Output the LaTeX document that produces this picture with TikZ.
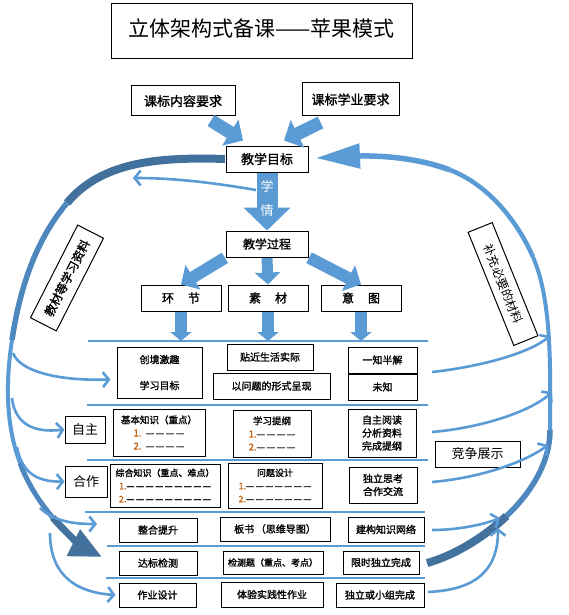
\documentclass[tikz,border=0pt]{standalone}
\usepackage{fontspec}
\setmainfont{Noto Sans CJK SC}
\newfontfamily\cjkb[FakeBold=1.5]{Noto Sans CJK SC}
\usetikzlibrary{arrows.meta}
\definecolor{lblue}{RGB}{91,155,213}
\definecolor{mblue}{RGB}{78,134,190}
\definecolor{dblue}{RGB}{65,113,156}
\definecolor{numc}{RGB}{196,98,16}
\newcommand{\nm}[1]{\textcolor{numc}{#1}}
\tikzset{
  box/.style={draw, line width=1pt, inner sep=0pt, align=center, font={\cjkb\fontsize{10}{13}\selectfont}},
  topbox/.style={box, font={\cjkb\fontsize{13}{15}\selectfont}},
  sidebox/.style={box, font={\fontsize{13}{15}\selectfont}},
  listbox/.style={box, font={\cjkb\fontsize{9.5}{13}\selectfont}},
  sepline/.style={lblue, line width=2pt},
  thinarr/.style={lblue, line width=2.6pt, -{Straight Barb[length=6pt,width=15pt]}},
}
\begin{document}
\begin{tikzpicture}[x=1pt,y=-1pt]
  \fill[white] (0,0) rectangle (568,615);
  \useasboundingbox (0,0) rectangle (568,615);

  % top part
  \node[draw, line width=1pt, minimum width=301pt, minimum height=55pt, font={\fontsize{21}{24}\selectfont}] (title) at (261.5,31.5) {\raisebox{8pt}{立体架构式备课——苹果模式}};
  \node[topbox, minimum width=104pt, minimum height=30pt] (kbnr) at (183,101) {课标内容要求};
  \node[topbox, minimum width=97pt, minimum height=33pt] (kbxy) at (350.5,99.5) {课标学业要求};
  \node[topbox, minimum width=82pt, minimum height=26pt] (mubiao) at (267,159) {教学目标};
  \node[topbox, minimum width=82pt, minimum height=26pt, font={\cjkb\fontsize{12}{14}\selectfont}] (guocheng) at (267,244) {教学过程};
  \node[topbox, minimum width=80pt, minimum height=26pt, font={\cjkb\fontsize{12}{14}\selectfont}] (huanjie) at (181,298) {环\hspace{14pt}节};
  \node[topbox, minimum width=80pt, minimum height=26pt, font={\cjkb\fontsize{12}{14}\selectfont}] (sucai) at (268,298) {素\hspace{14pt}材};
  \node[topbox, minimum width=80pt, minimum height=26pt, font={\cjkb\fontsize{12}{14}\selectfont}] (yitu) at (361,298) {意\hspace{14pt}图};

  % side labels
  \node[box, minimum width=104pt, minimum height=29pt, rotate=63, font={\cjkb\fontsize{12}{14}\selectfont}] (jiaocai) at (67,278) {教材等学习资料};
  \node[box, minimum width=122pt, minimum height=26pt, rotate=-68, font={\fontsize{12}{14}\selectfont}] (buchong) at (503,284) {补充必要的材料};

  % rows
  \foreach \y/\xa/\xb in {341/88/428, 405/87/428, 460/87/428, 512/85/425, 546/107/425, 578/106/425}
    \draw[sepline] (\xa,\y) -- (\xb,\y);
  \coordinate (h1) at (88,341);

  \node[box, minimum width=85pt, minimum height=51pt] (chuangjing) at (159.5,372.5) {创境激趣\\[13pt]学习目标};
  \node[box, minimum width=86pt, minimum height=26pt] (tiejin) at (270,357) {贴近生活实际};
  \node[box, minimum width=117pt, minimum height=26pt] (wenti) at (271.5,386) {以问题的形式呈现};
  \node[box, minimum width=69pt, minimum height=26pt] (yizhi) at (382.5,360) {一知半解};
  \node[box, minimum width=69pt, minimum height=26pt] (weizhi) at (382.5,387) {未知};

  \node[sidebox, minimum width=40pt, minimum height=27pt] (zizhu) at (85,429.5) {自主};
  \node[listbox, minimum width=92pt, minimum height=47pt] (jiben) at (159,432.5) {基本知识（重点）\\\nm{1.}\ \ —\,—\,—\,—\\\nm{2.}\ \ —\,—\,—\,—};
  \node[listbox, minimum width=78pt, minimum height=47pt] (tigang) at (272,433.5) {学习提纲\\\nm{1.}—\,—\,—\,—\\\nm{2.}—\,—\,—\,—};
  \node[box, minimum width=68pt, minimum height=48pt] (yuedu) at (382,433) {自主阅读\\分析资料\\完成提纲};
  \node[sidebox, minimum width=85pt, minimum height=26pt] (jingzheng) at (477.5,454) {竞争展示};

  \node[sidebox, minimum width=42pt, minimum height=31pt] (hezuo) at (86,481.5) {合作};
  \node[listbox, minimum width=110pt, minimum height=43pt, font={\cjkb\fontsize{9}{13}\selectfont}] (zonghe) at (165,485.5) {综合知识（重点、难点）\\\nm{1.}—\,—\,—\,—\,—\,—\,—\,—\,—\\\nm{2.}—\,—\,—\,—\,—\,—\,—\,—\,—};
  \node[listbox, minimum width=94pt, minimum height=45pt, font={\cjkb\fontsize{9}{13}\selectfont}] (sheji) at (275,485.5) {问题设计\\\nm{1.}—\,—\,—\,—\,—\,—\,—\\\nm{2.}—\,—\,—\,—\,—\,—\,—};
  \node[box, minimum width=68pt, minimum height=36pt] (duli) at (383,485) {独立思考\\合作交流};

  \node[box, minimum width=78pt, minimum height=24pt] (zhenghe) at (158,530) {整合提升};
  \node[box, minimum width=110pt, minimum height=24pt] (banshu) at (275,529) {板书\,（思维导图）};
  \node[box, minimum width=76pt, minimum height=25pt] (jiangou) at (386,529.5) {建构知识网络};
  \node[box, minimum width=78pt, minimum height=24pt] (dabiao) at (158,563) {达标检测};
  \node[box, minimum width=100pt, minimum height=23pt, font={\cjkb\fontsize{9}{12}\selectfont}] (jianceti) at (273,562.5) {检测题（重点、考点）};
  \node[box, minimum width=76pt, minimum height=23pt] (xianshi) at (381,562.5) {限时独立完成};
  \node[box, minimum width=77pt, minimum height=24pt] (zuoye) at (157.5,595) {作业设计};
  \node[box, minimum width=102pt, minimum height=25pt] (tiyan) at (272,594.5) {体验实践性作业};
  \node[box, minimum width=88pt, minimum height=24pt] (xiaozu) at (380,595) {独立或小组完成};

  % block arrows
  \draw[lblue, line width=13pt, -{Triangle[length=15pt,width=30pt]}] ([xshift=28pt,yshift=-4pt]kbnr.south) -- ([xshift=-24pt,yshift=5pt]mubiao.north);
  \draw[lblue, line width=13pt, -{Triangle[length=15pt,width=30pt]}] ([xshift=-30pt,yshift=-6pt]kbxy.south) -- ([xshift=17pt,yshift=5pt]mubiao.north);
  \draw[lblue, line width=21pt, shorten <=0.6pt, -{Triangle[length=23pt,width=46pt]}] (mubiao.south) -- (guocheng.north);
  \node[white, font={\fontsize{13}{15}\selectfont}] (xue) at (267,186) {学};
  \node[white, font={\fontsize{13}{15}\selectfont}] (qing) at (267,211) {情};
  \draw[lblue, line width=12pt, shorten <=0.6pt, -{Triangle[length=14pt,width=28pt]}] (guocheng.south west) -- (huanjie.north);
  \draw[lblue, line width=11pt, shorten <=0.6pt, -{Triangle[length=12pt,width=25pt]}] (guocheng.south) -- (sucai.north);
  \draw[lblue, line width=12pt, shorten <=0.6pt, -{Triangle[length=14pt,width=28pt]}] (guocheng.south east) -- (yitu.north);
  \draw[lblue, line width=12pt, shorten <=0.6pt, -{Triangle[length=9pt,width=21pt]}] (huanjie.south) -- (huanjie.south |- h1);
  \draw[lblue, line width=12pt, shorten <=0.6pt, -{Triangle[length=9pt,width=21pt]}] (sucai.south) -- (sucai.south |- h1);
  \draw[lblue, line width=12pt, shorten <=0.6pt, -{Triangle[length=9pt,width=21pt]}] (yitu.south) -- (yitu.south |- h1);

  % left arc
  \coordinate (la1) at (67,203);
  \coordinate (la2) at (12,340);
  \coordinate (la3) at (20,463);
  \coordinate (la4) at (52.75,517.5);
  \coordinate (la5) at (102,557);
  \draw[dblue, line width=8pt, shorten <=0.6pt] (mubiao.west) .. controls (160,157) and (102,161) .. (la1);
  \draw[mblue, line width=5.5pt] (la1) .. controls (35,241) and (19.5,290) .. (la2);
  \draw[lblue, line width=4pt] (la2) .. controls (6,380) and (5,423) .. (la3);
  \draw[mblue, line width=5pt] (la3) .. controls (27,482) and (38.5,501) .. (la4);
  \draw[dblue, line width=7pt, -{Triangle[length=32pt,width=28pt]}] (la4) .. controls (67,534) and (84,548) .. (la5);

  % right arc
  \coordinate (rb0) at (427,563);
  \coordinate (rb1) at (506.5,516);
  \coordinate (rb2) at (550,430);
  \coordinate (rb3) at (533,257);
  \coordinate (rb4) at (450,170);
  \coordinate (rtip) at (316,158);
  \draw[dblue, line width=8pt] (rb0) .. controls (451,556.5) and (481.75,539.5) .. (rb1);
  \draw[mblue, line width=5.5pt] (rb1) .. controls (531.25,492.5) and (550,462.5) .. (rb2);
  \draw[lblue, line width=4pt] (rb2) .. controls (550,375) and (553,303) .. (rb3);
  \draw[lblue, line width=4.5pt] (rb3) .. controls (517,220) and (487,184) .. (rb4);
  \draw[lblue, line width=5.5pt, -{Triangle[length=44pt,width=24pt]}] (rb4) .. controls (408,154) and (360,156) .. (rtip);

  % thin arrows, left
  \coordinate (xqs) at (256,190);
  \coordinate (xqe) at (133,178);
  \draw[thinarr] (xqs) .. controls (215,183) and (175,178) .. (xqe);
  \coordinate (a1s) at (13,353);
  \coordinate (a2s) at (12,398);
  \coordinate (a3s) at (17,447);
  \coordinate (a4s) at (40,508);
  \coordinate (a4e) at (97,524);
  \coordinate (a5s) at (50,533);
  \draw[thinarr] (a1s) .. controls (20,372) and (60,381) .. ([xshift=-6pt,yshift=-7pt]chuangjing.west);
  \draw[thinarr] (a2s) .. controls (15,425) and (35,433) .. (zizhu.west);
  \draw[thinarr] (a3s) .. controls (22,475) and (40,482) .. (hezuo.west);
  \draw[thinarr] (a4s) .. controls (55,522) and (75,524) .. (a4e);
  \draw[thinarr] (a5s) .. controls (50,570) and (70,592) .. ([xshift=-3pt]zuoye.west);

  % thin arrows, right
  \coordinate (r1s) at (432,372);
  \coordinate (r1e) at (550,336);
  \coordinate (r2s) at (432,432);
  \coordinate (r2e) at (552,392);
  \coordinate (r3s) at (432,482);
  \coordinate (r3e) at (548,445);
  \coordinate (r4s) at (432,530);
  \coordinate (r4e) at (500,518);
  \coordinate (r5s) at (428,592);
  \coordinate (r5e) at (498,528);
  \draw[thinarr] (r1s) .. controls (470,368) and (525,356) .. (r1e);
  \draw[thinarr] (r2s) .. controls (480,428) and (530,412) .. (r2e);
  \draw[thinarr] (r3s) .. controls (480,478) and (525,462) .. (r3e);
  \draw[thinarr] (r4s) .. controls (460,530) and (485,524) .. (r4e);
  \draw[thinarr] (r5s) .. controls (470,590) and (498,575) .. (r5e);
\end{tikzpicture}
\end{document}
